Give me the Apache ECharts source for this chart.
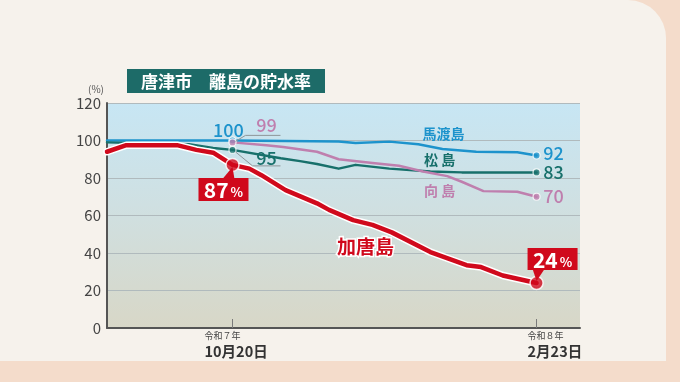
<!DOCTYPE html>
<html><head><meta charset="utf-8">
<script src="https://cdn.jsdelivr.net/npm/echarts@6/dist/echarts.min.js"></script>
<style>
html,body{margin:0;padding:0;background:#f4dccb;overflow:hidden;}
#card{position:absolute;left:-40px;top:0;width:706px;height:361px;background:#f6f2ec;border-top-right-radius:38px;}
#c{position:absolute;left:0;top:0;width:680px;height:382px;}
</style>
</head><body><div id="card"></div><div id="c"></div>
<script>
// ---- data ----
const titleText = '唐津市　離島の貯水率';
const yMin = 0, yMax = 120, yStep = 20;
const xTickDays = [0, 126];            // days from 10/20
const xTickYear = ['令和７年', '令和８年'];
const xTickDate = ['10月20日', '2月23日'];
const islandNames = ['馬渡島', '松 島', '向 島', '加唐島'];

const madaraDays = [-52, 0, 44, 51, 65, 77, 87, 101, 118, 126];
const madaraVals = [100, 100, 99.5, 98.7, 99.4, 98, 95.5, 94, 93.7, 92];

const matsuDays = [-52, -18, -8, 0, 20, 28, 35, 44, 51, 65, 82, 95, 126];
const matsuVals = [99, 98, 96, 95, 90.5, 89, 87.5, 85, 87, 85, 83.5, 83, 83];

const mukaiDays = [0, 14, 21, 35, 44, 58, 69, 79, 89, 95, 104, 118, 126];
const mukaiVals = [99, 97.5, 96.5, 94, 90, 88, 86.5, 83.5, 81, 78, 73, 72.7, 70];

const kakaraDays = [-52, -44, -23, -15, -8, 0, 7, 12, 22, 35, 40, 50, 58, 66, 82, 97, 103, 112, 126];
const kakaraVals = [94, 97.5, 97.5, 95, 93.5, 87, 85, 81.5, 73.5, 66.5, 63, 57.5, 55, 51, 40.5, 33.5, 32.5, 28, 24];

// ---- styles ----
const FONT = '"Noto Sans CJK JP", "Noto Sans", sans-serif';
const C_BLUE = '#1d93cc', C_TEAL = '#17706b', C_PINK = '#bf7fae', C_RED = '#d0091c';

const pairs = (d, v) => d.map((x, i) => [x, v[i]]);
const atDay = (d, v, day) => [day, v[d.indexOf(day)]];
const lastOf = (d, v) => [d[d.length - 1], v[v.length - 1]];

const chart = echarts.init(document.getElementById('c'), null, {renderer: 'canvas'});

function lineSeries(name, d, v, color, width, z) {
  return {name, type: 'line', data: pairs(d, v), symbol: 'none', z,
    lineStyle: {color, width, cap: 'round', join: 'round'}, silent: true, animation: false};
}
function markerSeries(pts, color, size, bw, z) {
  return {type: 'scatter', data: pts, symbol: 'circle', symbolSize: size, z,
    itemStyle: {color, borderColor: '#fff', borderWidth: bw}, silent: true, animation: false};
}

chart.setOption({
  animation: false,
  grid: {left: 107, right: 100, top: 103, bottom: 54, show: true, borderWidth: 0,
    backgroundColor: new echarts.graphic.LinearGradient(0, 0, 0, 1, [
      {offset: 0, color: '#c7e6f4'}, {offset: 0.45, color: '#cfe0e2'}, {offset: 1, color: '#d8d7c7'}])},
  xAxis: {type: 'value', min: -52, max: 144,
    axisLine: {show: true, onZero: false, lineStyle: {color: '#555', width: 2}},
    axisTick: {show: true, inside: true, length: 9, customValues: xTickDays, lineStyle: {color: '#7a7a7a', width: 1}},
    axisLabel: {show: false}, splitLine: {show: false}},
  yAxis: {type: 'value', min: yMin, max: yMax, interval: yStep,
    axisLine: {show: true, onZero: false, lineStyle: {color: '#555', width: 2}},
    axisTick: {show: false},
    axisLabel: {color: '#444', fontSize: 15, margin: 6, fontFamily: FONT},
    splitLine: {lineStyle: {color: '#b0babd', width: 1}}},
  series: [
    lineSeries('馬渡島', madaraDays, madaraVals, C_BLUE, 2.5, 2),
    lineSeries('松島', matsuDays, matsuVals, C_TEAL, 2.5, 3),
    lineSeries('向島', mukaiDays, mukaiVals, C_PINK, 2.5, 4),
    lineSeries('加唐島_bg', kakaraDays, kakaraVals, '#ffffff', 7.5, 5),
    lineSeries('加唐島', kakaraDays, kakaraVals, C_RED, 4.5, 6),
    markerSeries([atDay(madaraDays, madaraVals, 0), lastOf(madaraDays, madaraVals)], C_BLUE, 7, 1.2, 7),
    markerSeries([atDay(matsuDays, matsuVals, 0), lastOf(matsuDays, matsuVals)], C_TEAL, 7, 1.2, 7),
    markerSeries([atDay(mukaiDays, mukaiVals, 0), lastOf(mukaiDays, mukaiVals)], C_PINK, 7, 1.2, 7),
    markerSeries([atDay(kakaraDays, kakaraVals, 0), lastOf(kakaraDays, kakaraVals)], C_RED, 13, 1.5, 8)
  ]
});

// ---- annotations positioned through the chart's scales ----
const P = p => chart.convertToPixel({gridIndex: 0}, p);
const g = [];
function txt(x, y, text, fill, size, weight, extra) {
  g.push(Object.assign({type: 'text', z: 100, style: Object.assign({x, y, text, fill,
    font: `${weight || 'normal'} ${size}px ${FONT}`, align: 'center', verticalAlign: 'middle'}, extra || {})}));
}
function poly(points, color, w) {
  g.push({type: 'polyline', z: 90, shape: {points}, style: {stroke: color, lineWidth: w || 1, fill: null}});
}
function redBox(x0, y0, w, h, tip, base1, base2, num) {
  g.push({type: 'polygon', z: 95, shape: {points: [base1, base2, tip]}, style: {fill: C_RED}});
  g.push({type: 'rect', z: 96, shape: {x: x0, y: y0, width: w, height: h}, style: {fill: C_RED}});
  g.push({type: 'text', z: 100, style: {x: x0 + w / 2, y: y0 + h / 2 + 1, align: 'center', verticalAlign: 'middle',
    text: `{n|${num}}{p|%}`, rich: {
      n: {fill: '#fff', font: `bold 21px ${FONT}`},
      p: {fill: '#fff', font: `bold 13px ${FONT}`, padding: [4, 0, 0, 2]}}}});
}

// title
g.push({type: 'rect', z: 90, shape: {x: 127, y: 69, width: 198, height: 24}, style: {fill: '#1d6b68'}});
txt(226, 81.5, titleText, '#fff', 17, 'bold');
// (%) label
txt(96, 89, '(%)', '#555', 10, 'normal');

// x tick labels
xTickDays.forEach((d, i) => {
  const px = P([d, 0]);
  const left = px[0] + (i === 0 ? -28 : -9);
  txt(left, 336, xTickYear[i], '#444', 9, 'normal', {align: 'left'});
  txt(left, 351, xTickDate[i], '#333', 14.5, 'bold', {align: 'left'});
});

// 10/20 labels
const NW = '500';
const b0 = P(atDay(madaraDays, madaraVals, 0));
const m0 = P(atDay(matsuDays, matsuVals, 0));
const k0 = P(atDay(mukaiDays, mukaiVals, 0));
const r0 = P(atDay(kakaraDays, kakaraVals, 0));
txt(b0[0] - 4, b0[1] - 10, '100', C_BLUE, 18, NW);
poly([[k0[0] + 3, k0[1] - 1], [k0[0] + 13, k0[1] - 7], [k0[0] + 48, k0[1] - 7]], '#8e9699', 1);
txt(k0[0] + 34, k0[1] - 17, '99', C_PINK, 18, NW);
poly([[m0[0] + 3, m0[1] + 2], [m0[0] + 20, m0[1] + 16], [m0[0] + 48, m0[1] + 16]], '#8e9699', 1);
txt(m0[0] + 34, m0[1] + 8, '95', C_TEAL, 18, NW);
redBox(r0[0] - 34, r0[1] + 13, 50, 23, [r0[0], r0[1] + 2], [r0[0] - 10, r0[1] + 14], [r0[0] + 2, r0[1] + 14], '87');

// end labels
const b1 = P(lastOf(madaraDays, madaraVals));
const m1 = P(lastOf(matsuDays, matsuVals));
const k1 = P(lastOf(mukaiDays, mukaiVals));
const r1 = P(lastOf(kakaraDays, kakaraVals));
txt(b1[0] + 17, b1[1] - 2, '92', C_BLUE, 18, NW);
txt(m1[0] + 17, m1[1], '83', C_TEAL, 18, NW);
txt(k1[0] + 17, k1[1] - 1, '70', C_PINK, 18, NW);
redBox(r1[0] - 9, r1[1] - 35, 50, 22, [r1[0], r1[1] - 2], [r1[0] - 4, r1[1] - 14], [r1[0] + 8, r1[1] - 14], '24');

// island names
txt(b1[0] - 93, b1[1] - 22, islandNames[0], C_BLUE, 14, 'bold');
txt(m1[0] - 97, m1[1] - 13, islandNames[1], C_TEAL, 14, 'bold');
txt(k1[0] - 97, k1[1] - 6, islandNames[2], C_PINK, 14, 'bold');
txt(r1[0] - 171, r1[1] - 36, islandNames[3], C_RED, 19, 'bold', {stroke: '#fff', lineWidth: 3});

chart.setOption({graphic: g});
</script>
</body></html>
